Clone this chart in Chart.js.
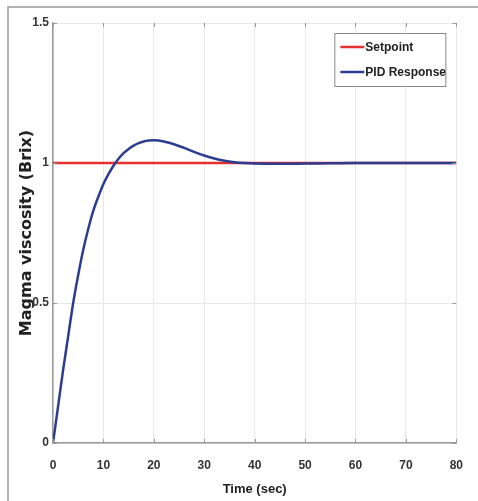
<!DOCTYPE html>
<html>
<head>
<meta charset="utf-8">
<script src="https://cdn.jsdelivr.net/npm/chart.js@4.4.1/dist/chart.umd.min.js"></script>
<style>
  html, body { margin: 0; padding: 0; background: #fff; }
  #wrap { width: 478px; height: 501px; }
</style>
</head>
<body>
<div id="wrap"><canvas id="pidChart" width="478" height="501"></canvas></div>
<script>
// valores
const timeSec = [0, 1, 2, 3, 4, 5, 6, 7, 8, 9, 10, 11, 12, 13, 14, 15, 16, 17, 18, 19, 20,
    22, 24, 26, 28, 30, 32, 34, 36, 38, 40, 45, 50, 55, 60, 70, 80];
const pidResponse = [0, 0.13, 0.26, 0.38, 0.5, 0.6, 0.69, 0.765, 0.83, 0.88, 0.925, 0.96, 0.99, 1.015,
    1.035, 1.05, 1.062, 1.071, 1.077, 1.08, 1.081, 1.077, 1.067, 1.054, 1.04, 1.027, 1.016, 1.008,
    1.003, 1.0, 0.998, 0.997, 0.998, 0.999, 1.0, 1.0, 1.0];
const setpointTime = [0, 80];
const setpointValue = [1, 1];
const xTicks = [0, 10, 20, 30, 40, 50, 60, 70, 80];
const yTicks = [0, 0.5, 1, 1.5];
const legendLabels = ['Setpoint', 'PID Response'];

const corSetpoint = '#e5302e';
const corPid = '#2c3d8f';
const fonte = '"Liberation Sans", Arial, sans-serif';

// moldura externa e marcas para dentro (estilo MATLAB)
const framePlugin = {
    id: 'frame',
    beforeDraw(chart) {
        const ctx = chart.ctx;
        ctx.save();
        ctx.fillStyle = '#fff';
        ctx.fillRect(0, 0, chart.width, chart.height);
        ctx.strokeStyle = '#9a9a9a';
        ctx.lineWidth = 1.5;
        ctx.strokeRect(8, 7, chart.width + 10, chart.height + 10);
        ctx.restore();
    },
    afterDatasetsDraw(chart) {
        const ctx = chart.ctx;
        const a = chart.chartArea;
        const x = chart.scales.x, y = chart.scales.y;
        ctx.save();
        ctx.strokeStyle = '#9a9a9a';
        ctx.lineWidth = 1;
        ctx.beginPath();
        xTicks.forEach(v => {
            const px = Math.round(x.getPixelForValue(v)) + 0.5;
            ctx.moveTo(px, a.bottom); ctx.lineTo(px, a.bottom - 4);
            ctx.moveTo(px, a.top); ctx.lineTo(px, a.top + 4);
        });
        yTicks.forEach(v => {
            const py = Math.round(y.getPixelForValue(v)) + 0.5;
            ctx.moveTo(a.left, py); ctx.lineTo(a.left + 4, py);
            ctx.moveTo(a.right, py); ctx.lineTo(a.right - 4, py);
        });
        ctx.stroke();
        ctx.restore();
    }
};

// legenda em caixa no canto superior direito
const legendBox = {
    id: 'legendBox',
    afterDraw(chart) {
        const ctx = chart.ctx;
        const a = chart.chartArea;
        const w = 111, h = 53;
        const bx = a.right - 11 - w, by = a.top + 10;
        ctx.save();
        ctx.fillStyle = '#fff';
        ctx.fillRect(bx, by, w, h);
        ctx.strokeStyle = '#8a8a8a';
        ctx.lineWidth = 1;
        ctx.strokeRect(bx + 0.5, by + 0.5, w, h);
        const cores = [corSetpoint, corPid];
        ctx.font = 'bold 12px ' + fonte;
        ctx.textBaseline = 'middle';
        legendLabels.forEach((txt, i) => {
            const ly = by + 14 + i * 25;
            ctx.strokeStyle = cores[i];
            ctx.lineWidth = 2.5;
            ctx.beginPath();
            ctx.moveTo(bx + 6, ly);
            ctx.lineTo(bx + 30, ly);
            ctx.stroke();
            ctx.fillStyle = '#222';
            ctx.fillText(txt, bx + 31, ly + 1);
        });
        ctx.restore();
    }
};

const pidChart = new Chart(document.getElementById('pidChart'), {
    type: 'line',
    data: {
        datasets: [{
            label: legendLabels[1],
            data: timeSec.map((t, i) => ({ x: t, y: pidResponse[i] })),
            borderColor: corPid,
            borderWidth: 2.5,
            pointRadius: 0,
            cubicInterpolationMode: 'monotone',
            order: 1
        }, {
            label: legendLabels[0],
            data: setpointTime.map((t, i) => ({ x: t, y: setpointValue[i] })),
            borderColor: corSetpoint,
            borderWidth: 2.5,
            pointRadius: 0,
            order: 2
        }]
    },
    options: {
        responsive: false,
        animation: false,
        layout: { padding: { left: 0, top: 23, right: 20, bottom: 0 } },
        plugins: {
            legend: { display: false },
            tooltip: { enabled: false }
        },
        scales: {
            x: {
                type: 'linear',
                min: 0,
                max: 80,
                afterBuildTicks: s => { s.ticks = xTicks.map(v => ({ value: v })); },
                afterFit: s => { s.height = 58; },
                grid: { color: '#e8e8e8', drawTicks: false },
                border: { color: '#9a9a9a', width: 1.5 },
                ticks: {
                    padding: 15,
                    color: '#333',
                    font: { family: fonte, size: 12, weight: 'bold' },
                    maxRotation: 0
                },
                title: {
                    display: true,
                    text: 'Time (sec)',
                    color: '#222',
                    font: { family: fonte, size: 13, weight: 'bold' },
                    padding: { top: 2, bottom: 4 }
                }
            },
            y: {
                min: 0,
                max: 1.5,
                afterBuildTicks: s => { s.ticks = yTicks.map(v => ({ value: v })); },
                afterFit: s => { s.width = 53; },
                grid: { color: '#e8e8e8', drawTicks: false },
                border: { color: '#9a9a9a', width: 1.5 },
                ticks: {
                    padding: 4,
                    color: '#333',
                    font: { family: fonte, size: 12, weight: 'bold' },
                    callback: v => String(v)
                },
                title: {
                    display: true,
                    text: 'Magma viscosity (Brix)',
                    color: '#222',
                    font: { family: '"DejaVu Sans", sans-serif', size: 16, weight: 'bold' },
                    padding: { top: 17, bottom: 0 }
                }
            }
        }
    },
    plugins: [framePlugin, legendBox]
});
</script>
</body>
</html>
